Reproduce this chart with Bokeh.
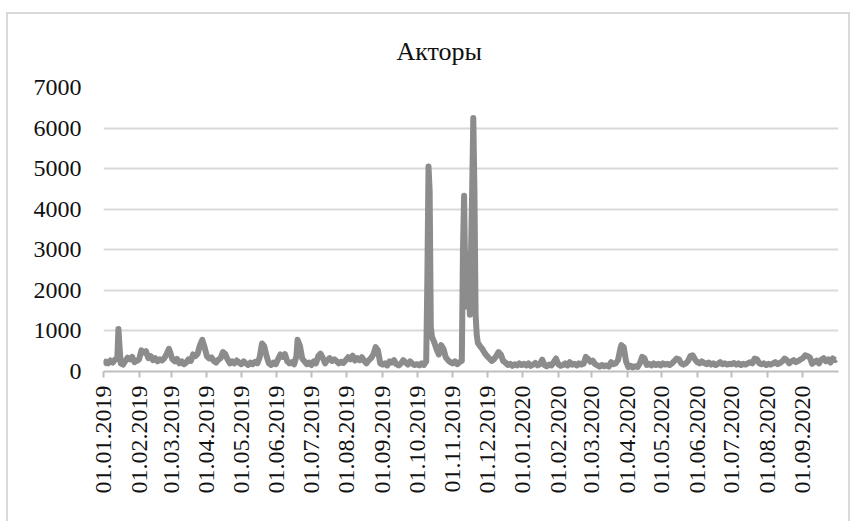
import math
import pandas as pd
from bokeh.plotting import figure
from bokeh.models import FixedTicker, DatetimeTickFormatter, Range1d
from bokeh.embed import file_html
from bokeh.resources import INLINE

title_text = "Акторы"

tick_labels = ["01.01.2019", "01.02.2019", "01.03.2019", "01.04.2019", "01.05.2019",
               "01.06.2019", "01.07.2019", "01.08.2019", "01.09.2019", "01.10.2019",
               "01.11.2019", "01.12.2019", "01.01.2020", "01.02.2020", "01.03.2020",
               "01.04.2020", "01.05.2020", "01.06.2020", "01.07.2020", "01.08.2020",
               "01.09.2020"]
y_ticks = [0, 1000, 2000, 3000, 4000, 5000, 6000, 7000]

dates = [
    "2019-01-01", "2019-01-03", "2019-01-05", "2019-01-07", "2019-01-09", "2019-01-11", "2019-01-13", "2019-01-14", "2019-01-15", "2019-01-16", "2019-01-18", "2019-01-20", "2019-01-22", "2019-01-24", "2019-01-26", "2019-01-28", "2019-01-30",
    "2019-02-01", "2019-02-03", "2019-02-05", "2019-02-07", "2019-02-09", "2019-02-11", "2019-02-13", "2019-02-15", "2019-02-17", "2019-02-19", "2019-02-21", "2019-02-23", "2019-02-25", "2019-02-27", "2019-02-28",
    "2019-03-02", "2019-03-04", "2019-03-06", "2019-03-08", "2019-03-10", "2019-03-12", "2019-03-14", "2019-03-16", "2019-03-18", "2019-03-20", "2019-03-22", "2019-03-24", "2019-03-26", "2019-03-28", "2019-03-30",
    "2019-04-01", "2019-04-03", "2019-04-05", "2019-04-07", "2019-04-09", "2019-04-11", "2019-04-13", "2019-04-15", "2019-04-17", "2019-04-19", "2019-04-21", "2019-04-23", "2019-04-25", "2019-04-27", "2019-04-29",
    "2019-05-01", "2019-05-03", "2019-05-05", "2019-05-07", "2019-05-09", "2019-05-11", "2019-05-13", "2019-05-15", "2019-05-17", "2019-05-19", "2019-05-21", "2019-05-23", "2019-05-25", "2019-05-27", "2019-05-29", "2019-05-31",
    "2019-06-02", "2019-06-04", "2019-06-06", "2019-06-08", "2019-06-10", "2019-06-12", "2019-06-14", "2019-06-16", "2019-06-18", "2019-06-19", "2019-06-21", "2019-06-23", "2019-06-25", "2019-06-27", "2019-06-29",
    "2019-07-01", "2019-07-03", "2019-07-05", "2019-07-07", "2019-07-09", "2019-07-11", "2019-07-13", "2019-07-15", "2019-07-17", "2019-07-19", "2019-07-21", "2019-07-23", "2019-07-25", "2019-07-27", "2019-07-29", "2019-07-31",
    "2019-08-02", "2019-08-04", "2019-08-06", "2019-08-08", "2019-08-10", "2019-08-12", "2019-08-14", "2019-08-16", "2019-08-18", "2019-08-20", "2019-08-22", "2019-08-24", "2019-08-26", "2019-08-28", "2019-08-30",
    "2019-09-01", "2019-09-03", "2019-09-05", "2019-09-07", "2019-09-09", "2019-09-11", "2019-09-13", "2019-09-15", "2019-09-17", "2019-09-19", "2019-09-21", "2019-09-23", "2019-09-25", "2019-09-27", "2019-09-29",
    "2019-10-01", "2019-10-03", "2019-10-05", "2019-10-07", "2019-10-09", "2019-10-10", "2019-10-11", "2019-10-12", "2019-10-13", "2019-10-14", "2019-10-16", "2019-10-18", "2019-10-20", "2019-10-22", "2019-10-24", "2019-10-26", "2019-10-28", "2019-10-30",
    "2019-11-01", "2019-11-03", "2019-11-05", "2019-11-07", "2019-11-09", "2019-11-10", "2019-11-11", "2019-11-12", "2019-11-13", "2019-11-14", "2019-11-15", "2019-11-16", "2019-11-17", "2019-11-18", "2019-11-19", "2019-11-20", "2019-11-21", "2019-11-22", "2019-11-23", "2019-11-25", "2019-11-27", "2019-11-29",
    "2019-12-01", "2019-12-03", "2019-12-05", "2019-12-07", "2019-12-09", "2019-12-11", "2019-12-13", "2019-12-15", "2019-12-17", "2019-12-19", "2019-12-21", "2019-12-23", "2019-12-25", "2019-12-27", "2019-12-29", "2019-12-31",
    "2020-01-02", "2020-01-04", "2020-01-06", "2020-01-08", "2020-01-10", "2020-01-12", "2020-01-14", "2020-01-16", "2020-01-18", "2020-01-20", "2020-01-22", "2020-01-24", "2020-01-26", "2020-01-28", "2020-01-30",
    "2020-02-01", "2020-02-03", "2020-02-05", "2020-02-07", "2020-02-09", "2020-02-11", "2020-02-13", "2020-02-15", "2020-02-17", "2020-02-19", "2020-02-21", "2020-02-23", "2020-02-25", "2020-02-27", "2020-02-29",
    "2020-03-02", "2020-03-04", "2020-03-06", "2020-03-08", "2020-03-10", "2020-03-12", "2020-03-14", "2020-03-16", "2020-03-18", "2020-03-20", "2020-03-22", "2020-03-24", "2020-03-26", "2020-03-27", "2020-03-29", "2020-03-31",
    "2020-04-02", "2020-04-04", "2020-04-06", "2020-04-08", "2020-04-10", "2020-04-12", "2020-04-14", "2020-04-16", "2020-04-18", "2020-04-20", "2020-04-22", "2020-04-24", "2020-04-26", "2020-04-28", "2020-04-30",
    "2020-05-02", "2020-05-04", "2020-05-06", "2020-05-08", "2020-05-10", "2020-05-12", "2020-05-14", "2020-05-16", "2020-05-18", "2020-05-20", "2020-05-22", "2020-05-24", "2020-05-26", "2020-05-28", "2020-05-30",
    "2020-06-01", "2020-06-03", "2020-06-05", "2020-06-07", "2020-06-09", "2020-06-11", "2020-06-13", "2020-06-15", "2020-06-17", "2020-06-19", "2020-06-21", "2020-06-23", "2020-06-25", "2020-06-27", "2020-06-29",
    "2020-07-01", "2020-07-03", "2020-07-05", "2020-07-07", "2020-07-09", "2020-07-11", "2020-07-13", "2020-07-15", "2020-07-17", "2020-07-19", "2020-07-21", "2020-07-23", "2020-07-25", "2020-07-27", "2020-07-29", "2020-07-31",
    "2020-08-02", "2020-08-04", "2020-08-06", "2020-08-08", "2020-08-10", "2020-08-12", "2020-08-14", "2020-08-16", "2020-08-18", "2020-08-20", "2020-08-22", "2020-08-24", "2020-08-26", "2020-08-28", "2020-08-30",
    "2020-09-01", "2020-09-03", "2020-09-05", "2020-09-07", "2020-09-09", "2020-09-11", "2020-09-13", "2020-09-15", "2020-09-17", "2020-09-19", "2020-09-21", "2020-09-23", "2020-09-25", "2020-09-27", "2020-09-29", "2020-09-30",
]

actors = [
    170, 240, 200, 270, 220, 290, 320, 1050, 600, 200, 170, 260, 340, 300, 360, 230, 260,
    300, 520, 470, 500, 330, 380, 280, 330, 250, 300, 270, 330, 430, 560, 480,
    300, 250, 310, 200, 250, 180, 220, 300, 260, 420, 380, 440, 650, 780, 600,
    380, 320, 350, 260, 220, 290, 330, 480, 430, 300, 200, 250, 200, 270, 220,
    180, 250, 200, 160, 220, 180, 240, 200, 350, 690, 620, 380, 200, 160, 220, 180,
    300, 420, 360, 430, 250, 200, 230, 180, 380, 780, 640, 320, 250, 180, 220,
    160, 250, 200, 380, 440, 330, 200, 280, 330, 260, 300, 250, 200, 240, 210, 280,
    350, 300, 390, 270, 330, 280, 350, 260, 200, 280, 330, 420, 600, 520, 200,
    170, 200, 150, 250, 220, 280, 180, 150, 200, 280, 220, 170, 250, 190, 160,
    180, 150, 200, 160, 250, 2300, 5050, 4450, 1100, 850, 720, 550, 420, 650, 560, 350, 280, 230,
    200, 250, 180, 230, 260, 3000, 4330, 2200, 2900, 1600, 2800, 1400, 2900, 4450, 6250, 4450, 1400, 900, 700, 620, 550, 450,
    380, 320, 260, 300, 380, 480, 420, 260, 220, 160, 190, 140, 180, 150, 200, 160,
    190, 150, 200, 140, 170, 210, 150, 180, 290, 160, 130, 170, 150, 230, 320,
    180, 140, 160, 200, 150, 230, 170, 190, 150, 200, 170, 190, 360, 310, 240,
    270, 180, 150, 120, 160, 130, 150, 120, 230, 180, 200, 280, 550, 650, 600, 250,
    110, 140, 100, 130, 110, 200, 360, 330, 160, 190, 150, 200, 160, 190, 150,
    200, 170, 190, 160, 200, 260, 320, 300, 200, 170, 200, 260, 380, 400, 300,
    230, 200, 250, 210, 180, 220, 170, 200, 160, 190, 230, 180, 200, 170, 190,
    180, 210, 170, 200, 160, 190, 170, 200, 230, 200, 320, 300, 200, 180, 200, 160,
    190, 170, 200, 230, 180, 210, 250, 320, 280, 200, 250, 280, 230, 260, 300,
    330, 400, 380, 350, 190, 230, 270, 200, 290, 330, 250, 300, 220, 320, 280, 300,
]

x = pd.to_datetime(dates)
tick_ms = [pd.Timestamp(pd.to_datetime(t, format="%d.%m.%Y")).value / 1e6 for t in tick_labels]

FONT = "Liberation Serif"

p = figure(
    width=844, height=515,
    x_axis_type="datetime",
    x_range=Range1d(pd.Timestamp("2019-01-01").value / 1e6, pd.Timestamp("2020-10-02").value / 1e6),
    y_range=Range1d(0, 7000),
    output_backend="svg", toolbar_location=None,
    min_border_left=95, min_border_right=14, min_border_top=73, min_border_bottom=158,
    margin=(12, 0, 0, 6),
)
p.styles = {"border": "2px solid #d9d9d9"}
p.outline_line_color = None
p.background_fill_color = "white"
p.border_fill_color = "white"

p.line(x, actors, line_color="#8c8c8c", line_width=6, line_join="round")

p.title.text = title_text
p.title.align = "left"
p.title.offset = 293
p.title.vertical_align = "top"
p.title.text_font = FONT
p.title.text_font_size = "26px"
p.title.text_font_style = "normal"
p.title.text_color = "#111111"
p.title.standoff = 40

p.xgrid.visible = False
p.ygrid.grid_line_color = "#d9d9d9"
p.ygrid.grid_line_width = 2

p.yaxis.ticker = FixedTicker(ticks=y_ticks)
p.yaxis.axis_line_color = None
p.yaxis.major_tick_line_color = None
p.yaxis.minor_tick_line_color = None
p.yaxis.major_label_text_font = FONT
p.yaxis.major_label_text_font_size = "24px"
p.yaxis.major_label_text_color = "#111111"
p.yaxis.major_label_standoff = 16

p.xaxis.ticker = FixedTicker(ticks=tick_ms)
fmt = "%d.%m.%Y"
p.xaxis.formatter = DatetimeTickFormatter(days=fmt, months=fmt, years=fmt, hours=fmt,
                                          hourmin=fmt, minutes=fmt, minsec=fmt, seconds=fmt,
                                          milliseconds=fmt, microseconds=fmt)
p.xaxis.major_label_orientation = math.pi / 2
p.xaxis.axis_line_color = "#bfbfbf"
p.xaxis.axis_line_width = 2
p.xaxis.major_tick_line_color = "#bfbfbf"
p.xaxis.major_tick_line_width = 2
p.xaxis.major_tick_out = 6
p.xaxis.major_tick_in = 0
p.xaxis.minor_tick_line_color = None
p.xaxis.major_label_text_font = FONT
p.xaxis.major_label_text_font_size = "24px"
p.xaxis.major_label_text_color = "#111111"
p.xaxis.major_label_standoff = 8

open("out.html", "w").write(file_html(p, INLINE))
